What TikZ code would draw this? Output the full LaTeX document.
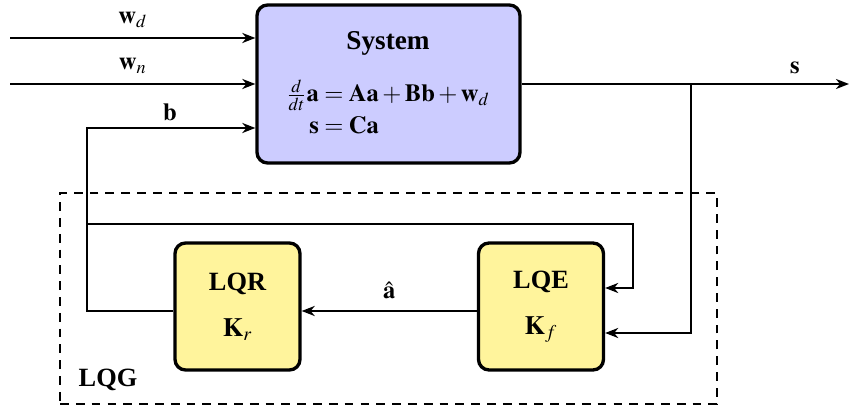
\documentclass[tikz,border=0pt]{standalone}
\usepackage{amsmath}
\usepackage{mathptmx}
\usepackage[no-math]{fontspec}
\setmainfont{Liberation Serif}
\usepackage{tikz}
\usetikzlibrary{arrows.meta, positioning}

\begin{document}
\begin{tikzpicture}[
      x=0.02cm, y=-0.02cm,
      font=\fontsize{14}{17}\selectfont\bfseries,
      block/.style={draw, line width=1.9pt, rounded corners=6pt, align=center},
      sysbox/.style={block, fill=blue!20, minimum width=5.26cm, minimum height=3.16cm},
      gainbox/.style={block, fill=yellow!35!white!95!orange, minimum width=2.5cm, minimum height=2.54cm,
                      font=\fontsize{15}{18}\selectfont\bfseries},
      arr/.style={-{Stealth[length=2.6mm, width=2mm, inset=0.8mm]}, line width=1.6pt},
      lbl/.style={inner sep=0pt}
    ]
    \useasboundingbox (0,0) rectangle (849,408);
    % plant
    \node[sysbox] (sys) at (388.5,84) {};
    \node[lbl, font=\fontsize{15.5}{18}\selectfont\bfseries] (systitle) at (388,43) {System};
    \node[lbl] (syseq) at (388,111) {$\begin{aligned}
        \tfrac{d}{dt}\mathbf{a} &= \mathbf{Aa}+\mathbf{Bb}+\mathbf{w}_d\\[-2pt]
        \mathbf{s} &= \mathbf{Ca}
      \end{aligned}$};
    % estimator and regulator
    \node[gainbox] (lqr) at (237.5,306.5) {LQR\\[8pt]$\mathbf{K}_r$};
    \node[gainbox] (lqe) at (541,306.5) {LQE\\[8pt]$\mathbf{K}_f$};
    \node[draw, line width=1.6pt, dash pattern=on 5pt off 4pt,
          minimum width=13.14cm, minimum height=4.22cm] (lqg) at (388.5,298.5) {};
    \node[lbl, font=\fontsize{15}{18}\selectfont\bfseries] (lqglbl) at (108,380) {LQG};
    % inputs
    \coordinate (wdin) at (10,38);
    \coordinate (wnin) at (10,84);
    \coordinate (bcorner) at (87,128);
    \draw[arr] (wdin) -- node[above=5pt, lbl] (wdlbl) {$\mathbf{w}_d$} (wdin -| sys.west);
    \draw[arr] (wnin) -- node[above=5pt, lbl] (wnlbl) {$\mathbf{w}_n$} (wnin -| sys.west);
    % output
    \coordinate (sout) at (849,84);
    \coordinate (tap) at (691,84);
    \draw[arr] (sys.east |- sout) -- (sout);
    \node[lbl] (slbl) at (795,68) {$\mathbf{s}$};
    \draw[arr] (tap) -- (691,333) -- (lqe.east |- 0,333);
    % loop
    \draw[arr] (lqe.west |- 0,311) -- node[above=6pt, lbl] (ahat) {$\hat{\mathbf{a}}$} (lqr.east |- 0,311);
    \draw[arr] (lqr.west |- 0,311) -- (87,311) -- (bcorner) -- (bcorner -| sys.west);
    \node[lbl] (blbl) at (170,112) {$\mathbf{b}$};
    \draw[arr] (87,224) -- (633,224) -- (633,288) -- (lqe.east |- 0,288);
  \end{tikzpicture}
\end{document}
